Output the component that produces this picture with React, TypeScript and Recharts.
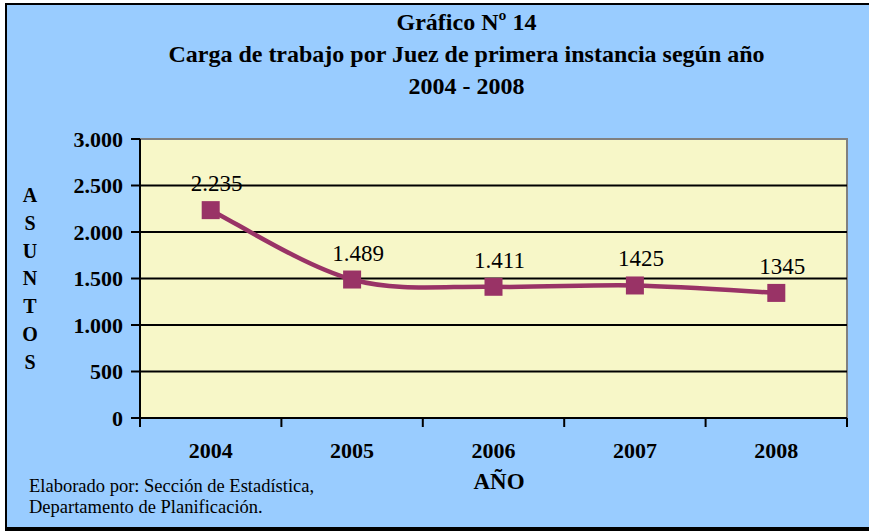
import React from "react";
import {
  LineChart,
  Line,
  XAxis,
  YAxis,
  ReferenceArea,
  ReferenceLine,
  LabelList,
} from "recharts";

const years = ["2004", "2005", "2006", "2007", "2008"];
const values = [2235, 1489, 1411, 1425, 1345];
const valueLabels = ["2.235", "1.489", "1.411", "1425", "1345"];
const yTicks = [0, 500, 1000, 1500, 2000, 2500, 3000];
const gridValues = [500, 1000, 1500, 2000, 2500];

const data = years.map((y, i) => ({ year: y, value: values[i], label: valueLabels[i] }));

const SERIF = '"Liberation Serif", "Times New Roman", serif';
const LINE_COLOR = "#993366";

const fmt = (v: number) => v.toString().replace(/\B(?=(\d{3})+(?!\d))/g, ".");

// Excel-like smoothing (Catmull-Rom style cubic bezier)
const excelSmooth = (context: any) => {
  let pts: number[][] = [];
  return {
    areaStart() {},
    areaEnd() {},
    lineStart() {
      pts = [];
    },
    point(x: number, y: number) {
      pts.push([+x, +y]);
    },
    lineEnd() {
      if (!pts.length) return;
      context.moveTo(pts[0][0], pts[0][1]);
      for (let i = 0; i < pts.length - 1; i++) {
        const p0 = pts[i - 1] || pts[i];
        const p1 = pts[i];
        const p2 = pts[i + 1];
        const p3 = pts[i + 2] || pts[i + 1];
        context.bezierCurveTo(
          p1[0] + (p2[0] - p0[0]) / 6,
          p1[1] + (p2[1] - p0[1]) / 6,
          p2[0] - (p3[0] - p1[0]) / 6,
          p2[1] - (p3[1] - p1[1]) / 6,
          p2[0],
          p2[1]
        );
      }
    },
  };
};

const SquareDot = (props: any) => {
  const { cx, cy, index } = props;
  if (cx == null || cy == null) return <g key={`d${index}`} />;
  return <rect key={`d${index}`} x={cx - 9} y={cy - 9} width={18} height={18} fill={LINE_COLOR} />;
};

const renderLabel = (props: any) => {
  const { x, y, value, index } = props;
  return (
    <text
      key={`l${index}`}
      x={x + 6}
      y={y - 19}
      textAnchor="middle"
      fontFamily={SERIF}
      fontSize={23}
      fill="#000"
    >
      {value}
    </text>
  );
};

// Category tick: label centered in band, tick marks at band boundaries
const CategoryTick = (props: any) => {
  const { x, y, payload, index, width, visibleTicksCount } = props;
  const count = visibleTicksCount || years.length;
  const band = (typeof width === "number" && width > 0 ? width : 707) / count;
  const half = band / 2;
  return (
    <g>
      <line x1={x - half} x2={x - half} y1={y} y2={y + 9} stroke="#000" strokeWidth={2} />
      {index === count - 1 && (
        <line x1={x + half} x2={x + half} y1={y} y2={y + 9} stroke="#000" strokeWidth={2} />
      )}
      <text
        x={x}
        y={y + 24}
        dy="0.71em"
        textAnchor="middle"
        fontFamily={SERIF}
        fontSize={22}
        fontWeight="bold"
        fill="#000"
      >
        {payload.value}
      </text>
    </g>
  );
};

export default function App() {
  return (
    <div
      style={{
        position: "absolute",
        left: 0,
        top: 0,
        width: 869,
        height: 531,
        background: "#fff",
        overflow: "hidden",
      }}
    >
      <div
        style={{
          position: "absolute",
          left: 5,
          top: 3,
          width: 880,
          height: 522,
          borderLeft: "2px solid #000",
          borderTop: "2px solid #000",
          borderBottom: "4px solid #000",
          background: "#99CCFF",
        }}
      />
      <div style={{ position: "absolute", left: 0, top: 0 }}>
        <LineChart
          width={869}
          height={531}
          data={data}
          margin={{ top: 139, right: 22, bottom: 73, left: 0 }}
        >
          <ReferenceArea y1={0} y2={3000} fill="#F7F7C8" fillOpacity={1} stroke="#808080" strokeWidth={2} />
          {gridValues.map((v) => (
            <ReferenceLine key={v} y={v} stroke="#000" strokeWidth={2} />
          ))}
          <XAxis
            dataKey="year"
            scale="band"
            tickLine={false}
            tickSize={0}
            tickMargin={0}
            interval={0}
            axisLine={{ stroke: "#000", strokeWidth: 2 }}
            tick={<CategoryTick />}
            height={40}
          />
          <YAxis
            domain={[0, 3000]}
            ticks={yTicks}
            tickFormatter={fmt}
            width={140}
            tickSize={9}
            tickMargin={8}
            axisLine={{ stroke: "#000", strokeWidth: 2 }}
            tickLine={{ stroke: "#000", strokeWidth: 2 }}
            tick={{ fontFamily: SERIF, fontSize: 22, fontWeight: "bold", fill: "#000" }}
            interval={0}
          />
          <Line
            dataKey="value"
            type={excelSmooth as any}
            stroke={LINE_COLOR}
            strokeWidth={4.5}
            dot={SquareDot}
            activeDot={false}
            isAnimationActive={false}
          >
            <LabelList dataKey="label" content={renderLabel} />
          </Line>
        </LineChart>
      </div>
      <div
        style={{
          position: "absolute",
          left: 60,
          width: 813,
          top: 6,
          textAlign: "center",
          fontFamily: SERIF,
          fontWeight: "bold",
          fontSize: 24,
          lineHeight: "32px",
          color: "#000",
        }}
      >
        <div>Gráfico Nº 14</div>
        <div>Carga de trabajo por Juez de primera instancia según año</div>
        <div>2004 - 2008</div>
      </div>
      <div
        style={{
          position: "absolute",
          left: 19,
          width: 22,
          top: 182,
          textAlign: "center",
          fontFamily: SERIF,
          fontWeight: "bold",
          fontSize: 20,
          lineHeight: "27.8px",
          color: "#000",
        }}
      >
        {"ASUNTOS".split("").map((c, i) => (
          <div key={i}>{c}</div>
        ))}
      </div>
      <div
        style={{
          position: "absolute",
          left: 439,
          width: 120,
          top: 469,
          textAlign: "center",
          fontFamily: SERIF,
          fontWeight: "bold",
          fontSize: 23,
          lineHeight: "26px",
          color: "#000",
        }}
      >
        AÑO
      </div>
      <div
        style={{
          position: "absolute",
          left: 29,
          top: 476,
          fontFamily: SERIF,
          fontSize: 18.5,
          lineHeight: "21px",
          color: "#000",
        }}
      >
        <div>Elaborado por: Sección de Estadística,</div>
        <div>Departamento de Planificación.</div>
      </div>
    </div>
  );
}
